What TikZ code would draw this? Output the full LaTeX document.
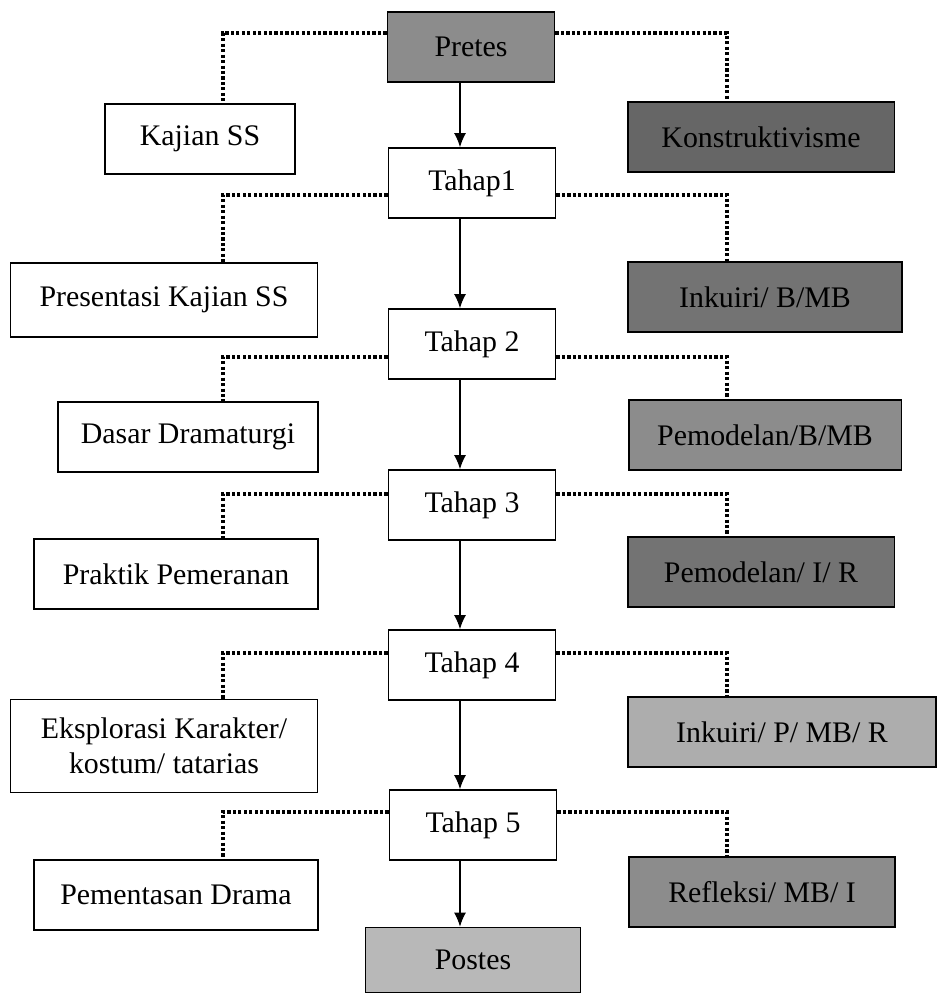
\documentclass[tikz,border=0pt]{standalone}
\usepackage{fontspec}
\setmainfont{Liberation Serif}
\usetikzlibrary{arrows.meta}

\begin{document}
\begin{tikzpicture}[
  x=0.02cm, y=-0.02cm,
  font=\fontsize{17}{20}\selectfont,
  block/.style={draw, line width=1.1pt, align=center, inner sep=0pt, minimum height=1.4cm},
  stage/.style={block, minimum width=3.34cm},
  greybox/.style={block, fill=black!#1},
  arrow/.style={-{Latex[length=0.28cm,width=0.24cm]}, line width=0.6pt},
  link/.style={line width=1.8pt, dash pattern=on 1.8pt off 1.3pt}
]
\useasboundingbox (0,0) rectangle (938,994);

% centre column
\node[greybox=45, minimum width=3.34cm] (pretes) at (471,47) {Pretes};
\node[stage] (tahap1) at (472,183) {Tahap1};
\node[stage] (tahap2) at (472,344) {Tahap 2};
\node[stage] (tahap3) at (472,505) {Tahap 3};
\node[stage] (tahap4) at (472,665) {Tahap 4};
\node[stage] (tahap5) at (473,825) {Tahap 5};
\node[greybox=28, minimum width=4.3cm, minimum height=1.3cm] (postes) at (473,960) {Postes};

% left column
\node[block, minimum width=3.8cm] (kajian) at (200,139) {Kajian SS};
\node[block, minimum width=6.14cm, minimum height=1.48cm] (presentasi) at (164,300) {Presentasi Kajian SS};
\node[block, minimum width=5.2cm] (dasar) at (188,437) {Dasar Dramaturgi};
\node[block, minimum width=5.68cm] (praktik) at (176,574) {Praktik Pemeranan};
\node[block, minimum width=6.14cm, minimum height=1.86cm] (eksplorasi) at (164,746) {Eksplorasi Karakter/\\kostum/ tatarias};
\node[block, minimum width=5.68cm] (pementasan) at (176,895) {Pementasan Drama};

% right column
\node[greybox=60, minimum width=5.34cm] (konstruktivisme) at (761,137) {Konstruktivisme};
\node[greybox=55, minimum width=5.48cm] (inkuiri1) at (765,297) {Inkuiri/ B/MB};
\node[greybox=45, minimum width=5.46cm] (pemodelan1) at (765,435) {Pemodelan/B/MB};
\node[greybox=55, minimum width=5.34cm] (pemodelan2) at (761,572) {Pemodelan/ I/ R};
\node[greybox=32, minimum width=6.16cm] (inkuiri2) at (782,732) {Inkuiri/ P/ MB/ R};
\node[greybox=45, minimum width=5.32cm] (refleksi) at (762,892) {Refleksi/ MB/ I};

% guide coordinates
\coordinate (spine) at (460,0);
\coordinate (lcol) at (223,0);
\coordinate (rcol) at (727,0);
\coordinate (b0) at (472,33);
\coordinate (b1) at (472,195);
\coordinate (b2) at (472,357);
\coordinate (b3) at (472,494);
\coordinate (b4) at (472,653);
\coordinate (b5) at (472,812);

% main flow
\draw[arrow] (pretes.south -| spine) -- (tahap1.north -| spine);
\draw[arrow] (tahap1.south -| spine) -- (tahap2.north -| spine);
\draw[arrow] (tahap2.south -| spine) -- (tahap3.north -| spine);
\draw[arrow] (tahap3.south -| spine) -- (tahap4.north -| spine);
\draw[arrow] (tahap4.south -| spine) -- (tahap5.north -| spine);
\draw[arrow] (tahap5.south -| spine) -- (postes.north -| spine);

% dotted branches
\draw[link] (pretes.west |- b0) -| (kajian.north -| lcol);
\draw[link] (pretes.east |- b0) -| (konstruktivisme.north -| rcol);
\draw[link] (tahap1.west |- b1) -| (presentasi.north -| lcol);
\draw[link] (tahap1.east |- b1) -| (inkuiri1.north -| rcol);
\draw[link] (tahap2.west |- b2) -| (dasar.north -| lcol);
\draw[link] (tahap2.east |- b2) -| (pemodelan1.north -| rcol);
\draw[link] (tahap3.west |- b3) -| (praktik.north -| lcol);
\draw[link] (tahap3.east |- b3) -| (pemodelan2.north -| rcol);
\draw[link] (tahap4.west |- b4) -| (eksplorasi.north -| lcol);
\draw[link] (tahap4.east |- b4) -| (inkuiri2.north -| rcol);
\draw[link] (tahap5.west |- b5) -| (pementasan.north -| lcol);
\draw[link] (tahap5.east |- b5) -| (refleksi.north -| rcol);
\end{tikzpicture}
\end{document}
